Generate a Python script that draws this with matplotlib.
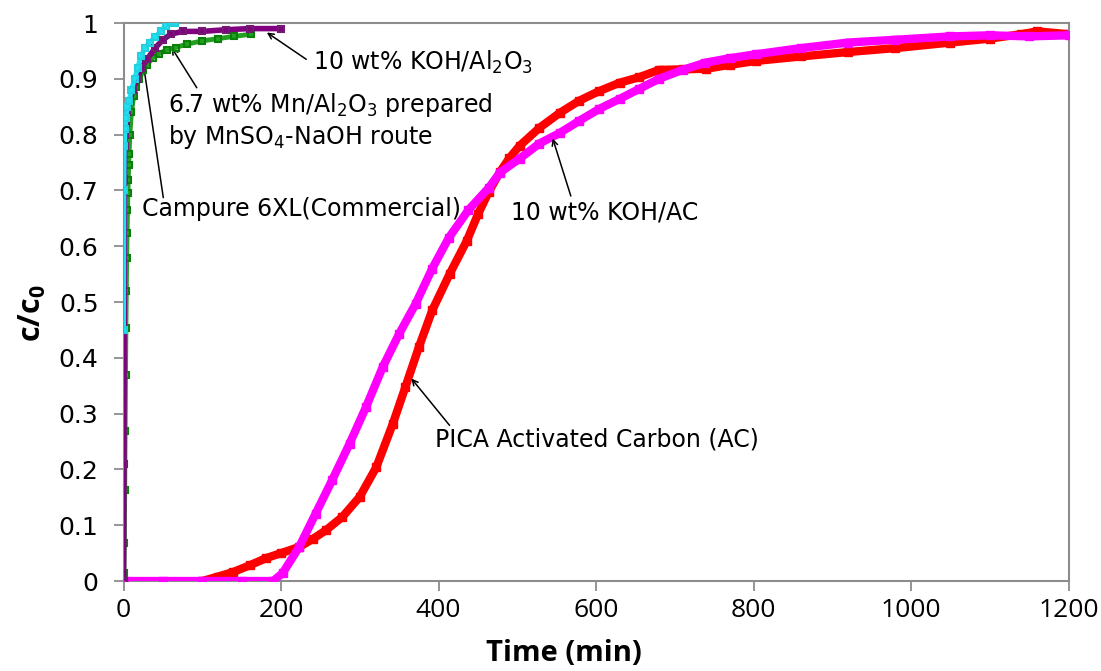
import matplotlib
matplotlib.use("Agg")
import matplotlib.pyplot as plt

plt.rcParams["mathtext.default"] = "regular"

# breakthrough curves: time (min) vs c/c0
campure_t = [0, 0.5, 1, 2, 3, 5, 7, 10, 14, 18, 22, 27, 33, 40, 47, 54, 60, 65]
campure_c = [0.45, 0.70, 0.78, 0.81, 0.83, 0.85, 0.86, 0.88, 0.90, 0.92, 0.94,
             0.955, 0.965, 0.975, 0.985, 0.995, 1.0, 1.0]

mn_t = [0, 0.5, 1, 1.5, 2, 2.5, 3, 3.5, 4, 4.5, 5, 5.5, 6, 6.5, 7, 8, 10, 13,
        16, 20, 25, 30, 37, 45, 55, 66, 80, 100, 120, 140, 162]
mn_c = [0, 0.014, 0.068, 0.163, 0.269, 0.369, 0.453, 0.52, 0.579, 0.624, 0.665,
        0.695, 0.719, 0.746, 0.765, 0.80, 0.84, 0.87, 0.885, 0.90, 0.915, 0.925,
        0.938, 0.945, 0.952, 0.956, 0.962, 0.968, 0.972, 0.976, 0.98]

koh_al_t = [0, 0.5, 1, 1.5, 2, 3, 5, 8, 12, 17, 23, 30, 40, 50, 60, 75, 100,
            130, 160, 200]
koh_al_c = [0, 0.21, 0.72, 0.78, 0.80, 0.82, 0.84, 0.86, 0.88, 0.90, 0.92,
            0.935, 0.955, 0.97, 0.98, 0.985, 0.985, 0.988, 0.99, 0.99]

pica_t = [100, 120, 139, 160, 181, 200, 223, 240, 257, 278, 300, 321, 342, 358,
          375, 392, 414, 436, 450, 464, 478, 490, 503, 528, 554, 579, 604, 630,
          655, 680, 710, 740, 770, 803, 860, 920, 980, 1050, 1100, 1140, 1160,
          1200]
pica_c = [0, 0.008, 0.016, 0.028, 0.041, 0.05, 0.061, 0.075, 0.091, 0.115,
          0.151, 0.204, 0.282, 0.348, 0.419, 0.485, 0.55, 0.61, 0.657, 0.698,
          0.733, 0.758, 0.78, 0.812, 0.839, 0.861, 0.878, 0.893, 0.903, 0.916,
          0.917, 0.918, 0.925, 0.932, 0.94, 0.948, 0.955, 0.965, 0.972, 0.98,
          0.985, 0.98]

koh_ac_t = [0, 50, 100, 150, 190, 202, 223, 244, 265, 287, 308, 329, 350, 371,
            392, 413, 438, 464, 478, 503, 528, 554, 579, 604, 630, 655, 680,
            710, 739, 770, 803, 860, 920, 980, 1050, 1100, 1150, 1200]
koh_ac_c = [0, 0, 0, 0, 0, 0.014, 0.061, 0.121, 0.181, 0.246, 0.312, 0.383,
            0.443, 0.497, 0.56, 0.615, 0.665, 0.705, 0.732, 0.757, 0.784,
            0.803, 0.825, 0.846, 0.864, 0.882, 0.9, 0.916, 0.929, 0.937, 0.944,
            0.955, 0.965, 0.97, 0.976, 0.978, 0.976, 0.978]

x_ticks = [0, 200, 400, 600, 800, 1000, 1200]
y_ticks = [0, 0.1, 0.2, 0.3, 0.4, 0.5, 0.6, 0.7, 0.8, 0.9, 1.0]
y_tick_labels = ["0", "0.1", "0.2", "0.3", "0.4", "0.5", "0.6", "0.7", "0.8",
                 "0.9", "1"]

fig = plt.figure(figsize=(11.01, 6.71), dpi=100)
ax = fig.add_axes([0.1122, 0.1341, 0.8583, 0.8316])

ax.plot(pica_t, pica_c, color="#ff0000", lw=6, marker="s", ms=6,
        solid_joinstyle="round", zorder=2)
ax.plot(koh_ac_t, koh_ac_c, color="#ff00ff", lw=6, marker="s", ms=6,
        solid_joinstyle="round", zorder=3)
ax.plot(mn_t, mn_c, color="#22a022", lw=3.5, marker="s", ms=4, mew=1.5,
        mfc="none", mec="#0a800a", zorder=4)
ax.plot(koh_al_t, koh_al_c, color="#800080", lw=4, marker="s", ms=4, mew=1.5,
        mfc="none", mec="#701a70", zorder=5)
ax.plot(campure_t, campure_c, color="#1fe0ee", lw=3.5, marker="s", ms=4,
        mew=1.5, mfc="none", mec="#22d0e0", zorder=6)

ax.set_xlim(0, 1200)
ax.set_ylim(0, 1)
ax.set_xticks(x_ticks)
ax.set_yticks(y_ticks)
ax.set_yticklabels(y_tick_labels)

for side in ax.spines.values():
    side.set_color("#8c8c8c")
    side.set_linewidth(1.5)
ax.tick_params(direction="out", length=7, width=1.3, color="#8c8c8c")
ax.tick_params(axis="x", pad=5, labelsize=19)
ax.tick_params(axis="y", pad=11, labelsize=18)
for lab in ax.get_xticklabels():
    lab.set_family("Open Sans")

ax.set_xlabel("Time (min)", fontsize=21, fontweight="bold",
              family=["Liberation Sans Narrow", "Open Sans"])
ax.xaxis.set_label_coords(0.466, -0.104)
ax.set_ylabel("c/c$_0$", fontsize=22, fontweight="bold", family="Open Sans")
ax.yaxis.set_label_coords(-0.08, 0.48)

arrow = dict(arrowstyle="->", color="black", lw=1.1, shrinkA=0, shrinkB=0)
label_kw = dict(fontsize=17, ha="left", va="center", zorder=8)

ax.annotate("", xy=(182, 0.983), xytext=(232, 0.935), arrowprops=arrow)
ax.text(240, 0.929, "10 wt% KOH/Al$_2$O$_3$", **label_kw)

ax.annotate("", xy=(61, 0.956), xytext=(93, 0.884), arrowprops=arrow)
ax.text(56, 0.825, "6.7 wt% Mn/Al$_2$O$_3$ prepared\nby MnSO$_4$-NaOH route",
        linespacing=1.2, **label_kw)

ax.annotate("", xy=(23, 0.947), xytext=(50.5, 0.687), arrowprops=arrow)
ax.text(23, 0.666, "Campure 6XL(Commercial)", **label_kw)

ax.annotate("", xy=(545, 0.793), xytext=(568, 0.69), arrowprops=arrow)
ax.text(492, 0.66, "10 wt% KOH/AC", **label_kw)

ax.annotate("", xy=(365.5, 0.363), xytext=(414, 0.279), arrowprops=arrow)
ax.text(396, 0.254, "PICA Activated Carbon (AC)", **label_kw)

fig.savefig("out.png", dpi=100)
